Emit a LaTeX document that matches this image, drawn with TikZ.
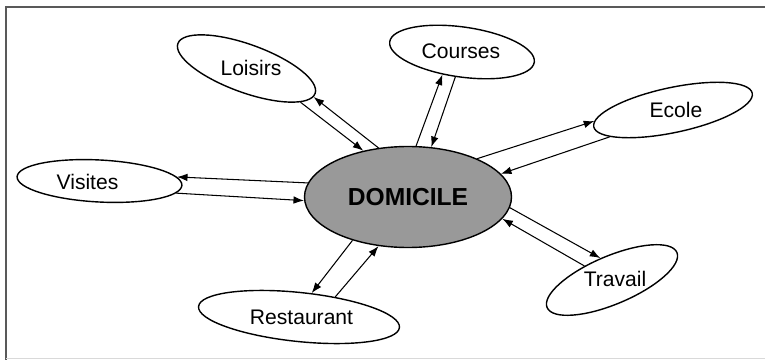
\documentclass[tikz,border=0pt]{standalone}
\usepackage{fontspec}
\setmainfont{Liberation Sans}
\usetikzlibrary{arrows.meta,shapes.geometric}

\begin{document}
\begin{tikzpicture}[x=0.03cm, y=0.03cm,
  lieu/.style={draw, ellipse, line width=1.2pt, inner sep=0pt},
  nom/.style={font=\fontsize{18}{21}\selectfont},
  fleche/.style={-{Latex[length=9pt,width=6.5pt]}, line width=0.9pt}]

\useasboundingbox (0,0) rectangle (765,360);

% cadre
\draw[line width=1.6pt, black!65] (765,353) -- (6,353) -- (6,0);
\draw[line width=0.8pt, black!15] (6,2) -- (765,2);

% domicile
\node[lieu, fill=black!40, minimum width=6.21cm, minimum height=3.03cm,
  font=\bfseries\fontsize{21}{25}\selectfont] (dom) at (408,163) {DOMICILE};

% lieux
\node[lieu, minimum width=4.38cm, minimum height=1.44cm, rotate=-20] (loisirs) at (246.5,291.5) {};
\node[lieu, minimum width=4.38cm, minimum height=1.5cm, rotate=-8] (courses) at (462,308) {};
\node[lieu, minimum width=4.86cm, minimum height=1.35cm, rotate=12] (ecole) at (673,250) {};
\node[lieu, minimum width=4.95cm, minimum height=1.26cm, rotate=-3] (visites) at (99.5,179) {};
\node[lieu, minimum width=6.06cm, minimum height=1.47cm, rotate=-6] (restaurant) at (299,43) {};
\node[lieu, minimum width=4.23cm, minimum height=1.44cm, rotate=23] (travail) at (612,80) {};

\node[nom] (loisirs-txt) at (251,292) {Loisirs};
\node[nom] (courses-txt) at (461,309) {Courses};
\node[nom] (ecole-txt) at (676,250) {Ecole};
\node[nom] (visites-txt) at (87.5,178.5) {Visites};
\node[nom] (restaurant-txt) at (301.5,43) {Restaurant};
\node[nom] (travail-txt) at (615,81) {Travail};

% fleches
\draw[fleche] (loisirs.-12) -- (dom.134);
\draw[fleche] (dom.121) -- (loisirs.-3);
\draw[fleche] (dom.81) -- (courses.237);
\draw[fleche] (courses.263) -- (dom.65);
\draw[fleche] (dom.29) -- (ecole.176);
\draw[fleche] (ecole.191) -- (dom.14);
\draw[fleche] (dom.172) -- (visites.6);
\draw[fleche] (visites.-6) -- (dom.182);
\draw[fleche] (dom.218) -- (restaurant.68);
\draw[fleche] (restaurant.35) -- (dom.239);
\draw[fleche] (dom.-6) -- (travail.95);
\draw[fleche] (travail.130) -- (dom.-13);

\end{tikzpicture}
\end{document}
